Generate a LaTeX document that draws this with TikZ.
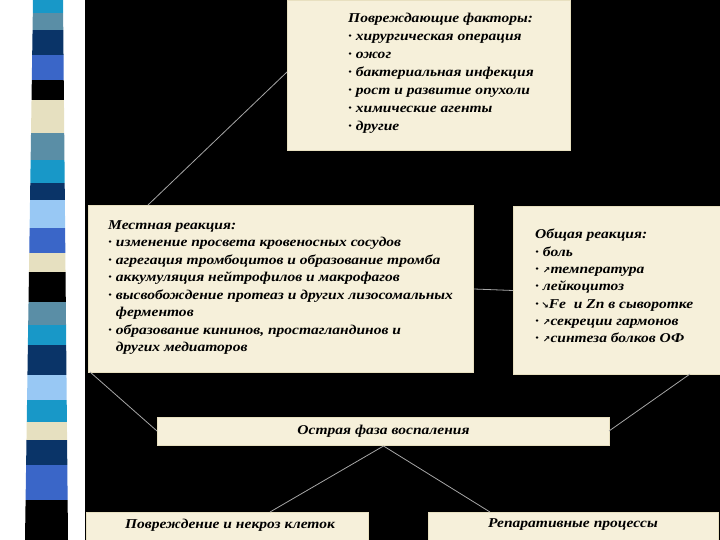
\documentclass[tikz,border=0pt]{standalone}
\usepackage{fontspec}
\setmainfont{Liberation Serif}[FakeStretch=1.15]
\newfontfamily\arr{DejaVu Sans}
\begin{document}
\begin{tikzpicture}[x=1pt,y=-1pt,
 box/.style={fill=boxc,draw=boxe,line width=1pt},
 txt/.style={anchor=north west,align=left,font=\bfseries\itshape\fontsize{13.5}{17.5}\selectfont,inner sep=0pt},
 lbl/.style={font=\bfseries\itshape\fontsize{13.5}{16}\selectfont},
 conn/.style={draw=gray!70,line width=0.8pt}]
\definecolor{boxc}{HTML}{F6F0DA}\definecolor{boxe}{HTML}{E8E0C0}
\definecolor{cy}{HTML}{1898C8}\definecolor{st}{HTML}{5A8EA6}\definecolor{nv}{HTML}{0A3468}
\definecolor{rb}{HTML}{3A66C8}\definecolor{bg}{HTML}{E6E0C0}\definecolor{lb}{HTML}{98C8F4}
\useasboundingbox (0,0) rectangle (720,540);
\fill[white] (0,0) rectangle (85,540);
\fill[black] (85,0) rectangle (720,540);
\begin{scope}
\clip (33,0) -- (63,0) -- (68,540) -- (25,540) -- cycle;
\foreach \a/\b/\c in {0/13/cy,13/30/st,30/55/nv,55/80/rb,80/100/black,100/133/bg,133/160/st,160/183/cy,183/200/nv,200/228/lb,228/253/rb,253/272/bg,272/302/black,302/325/st,325/345/cy,345/375/nv,375/400/lb,400/422/cy,422/440/bg,440/465/nv,465/500/rb,500/540/black}
 \fill[\c] (0,\a) rectangle (90,\b);
\end{scope}
\node[box,minimum width=283,minimum height=150,anchor=north west,inner sep=0] (top) at (287,0) {};
\node[box,minimum width=385,minimum height=167,anchor=north west,inner sep=0] (loc) at (88,205) {};
\node[box,minimum width=207,minimum height=168,anchor=north west,inner sep=0] (gen) at (513,206) {};
\node[box,minimum width=452,minimum height=28,anchor=north west,inner sep=0] (acu) at (157,417) {};
\node[box,minimum width=282,minimum height=30,anchor=north west,inner sep=0] (bl) at (86,512) {};
\node[box,minimum width=290,minimum height=30,anchor=north west,inner sep=0] (br) at (428,512) {};
\coordinate (t1) at (287,72);
\draw[conn] (t1) -- (148,205);
\draw[conn] (loc.east) -- (gen.west);
\draw[conn] (90,372) -- (157,431);
\draw[conn] (690,374) -- (609,431);
\draw[conn] (acu.south) -- (270,512);
\draw[conn] (acu.south) -- (490,512);
\node[txt,font=\bfseries\itshape\fontsize{13.5}{18}\selectfont] (tt) at (348,13) {Повреждающие факторы:\\
\textperiodcentered\ хирургическая операция\\
\textperiodcentered\ ожог\\
\textperiodcentered\ бактериальная инфекция\\
\textperiodcentered\ рост и развитие опухоли\\
\textperiodcentered\ химические агенты\\
\textperiodcentered\ другие};
\node[txt] (lt) at (108,220) {Местная реакция:\\
\textperiodcentered\ изменение просвета кровеносных сосудов\\
\textperiodcentered\ агрегация тромбоцитов и образование тромба\\
\textperiodcentered\ аккумуляция нейтрофилов и макрофагов\\
\textperiodcentered\ высвобождение протеаз и других лизосомальных\\
\ \ ферментов\\
\textperiodcentered\ образование кининов, простагландинов и\\
\ \ других медиаторов};
\node[txt,font=\bfseries\itshape\fontsize{13.5}{17.3}\selectfont] (gt) at (535,229) {Общая реакция:\\
\textperiodcentered\ боль\\
\textperiodcentered\ {\arr\fontsize{9}{9}\selectfont ↗}температура\\
\textperiodcentered\ лейкоцитоз\\
\textperiodcentered\,{\arr\fontsize{9}{9}\selectfont ↘}Fe\ \ и Zn в сыворотке\\
\textperiodcentered\ {\arr\fontsize{9}{9}\selectfont ↗}секреции гармонов\\
\textperiodcentered\ {\arr\fontsize{9}{9}\selectfont ↗}синтеза болков ОФ};
\node[lbl] (at) at (acu.center) {Острая фаза воспаления};
\node[lbl] (blt) at (230,525) {Повреждение и некроз клеток};
\node[lbl] (brt) at (573,525) {Репаративные процессы};
\end{tikzpicture}
\end{document}
